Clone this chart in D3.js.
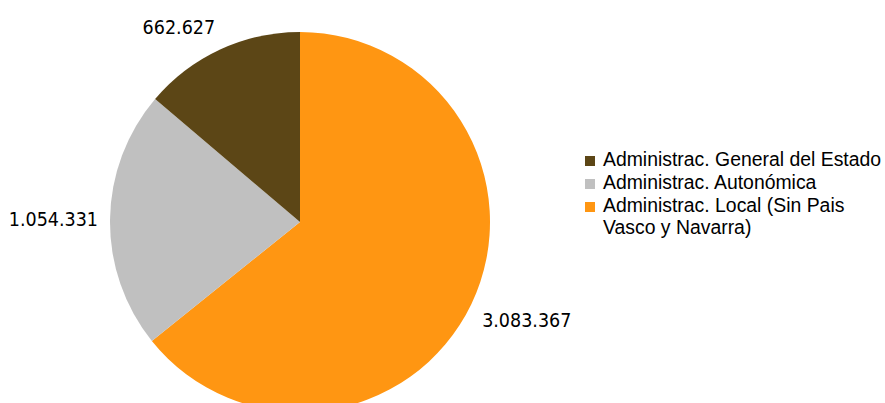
<!DOCTYPE html>
<html>
<head>
<meta charset="utf-8">
<script src="https://cdn.jsdelivr.net/npm/d3@7"></script>
<style>
  body { margin: 0; background: #fff; }
  svg { display: block; }
</style>
</head>
<body>
<svg id="pie_svg" width="885" height="403"></svg>
<script>
const categories = ['Administrac. Local (Sin Pais Vasco y Navarra)', 'Administrac. Autonómica', 'Administrac. General del Estado'];
const values = [3083367, 1054331, 662627];
const valueLabels = ['3.083.367', '1.054.331', '662.627'];
const colors = ['#ff9612', '#c0c0c0', '#5c4616'];
// legend order differs from slice order
const legendOrder = [2, 1, 0];
const legendLines = [['Administrac. General del Estado'], ['Administrac. Autonómica'], ['Administrac. Local (Sin Pais', 'Vasco y Navarra)']];

function createPie() {
    const svg = d3.select('#pie_svg');
    const cx = 300, cy = 222, radius = 190;

    const pie = d3.pie().sort(null).value(d => d)(values);
    const arc = d3.arc().innerRadius(0).outerRadius(radius);

    const g = svg.append('g').attr('transform', `translate(${cx},${cy})`);

    g.selectAll('path')
        .data(pie)
        .enter()
        .append('path')
        .attr('d', arc)
        .style('fill', (d, i) => colors[i]);

    // value labels, corner nearest the pie sits on a circle just outside it
    const labelR = radius + 12;
    g.selectAll('text.val')
        .data(pie)
        .enter()
        .append('text')
        .attr('class', 'val')
        .text((d, i) => valueLabels[i])
        .style('font-family', '"DejaVu Sans Condensed", "DejaVu Sans"')
        .style('font-stretch', 'condensed')
        .style('font-size', '19.5px')
        .style('fill', '#000')
        .each(function (d) {
            const a = (d.startAngle + d.endAngle) / 2;
            const px = Math.sin(a) * labelR, py = -Math.cos(a) * labelR;
            const b = this.getBBox();
            const x = Math.sin(a) >= 0 ? px : px - b.width;
            const dy = -Math.cos(a);
            let top;
            if (Math.abs(dy) < 0.3) top = py - b.height / 2;
            else if (dy < 0) top = py - b.height;
            else top = py;
            d3.select(this).attr('x', x).attr('y', top - b.y);
        });

    // legend
    const leg = svg.append('g').attr('transform', 'translate(585,0)');
    const rowY = [166, 189, 212];
    legendOrder.forEach((ci, r) => {
        leg.append('rect')
            .attr('x', 0).attr('y', rowY[r] - 10)
            .attr('width', 10).attr('height', 10)
            .style('fill', colors[ci]);
        legendLines[r].forEach((line, k) => {
            leg.append('text')
                .attr('x', 18).attr('y', rowY[r] + k * 22)
                .text(line)
                .style('font-family', '"Liberation Sans", Arial, sans-serif')
                .style('font-size', '19.4px')
                .style('fill', '#000');
        });
    });
}
createPie();
</script>
</body>
</html>
